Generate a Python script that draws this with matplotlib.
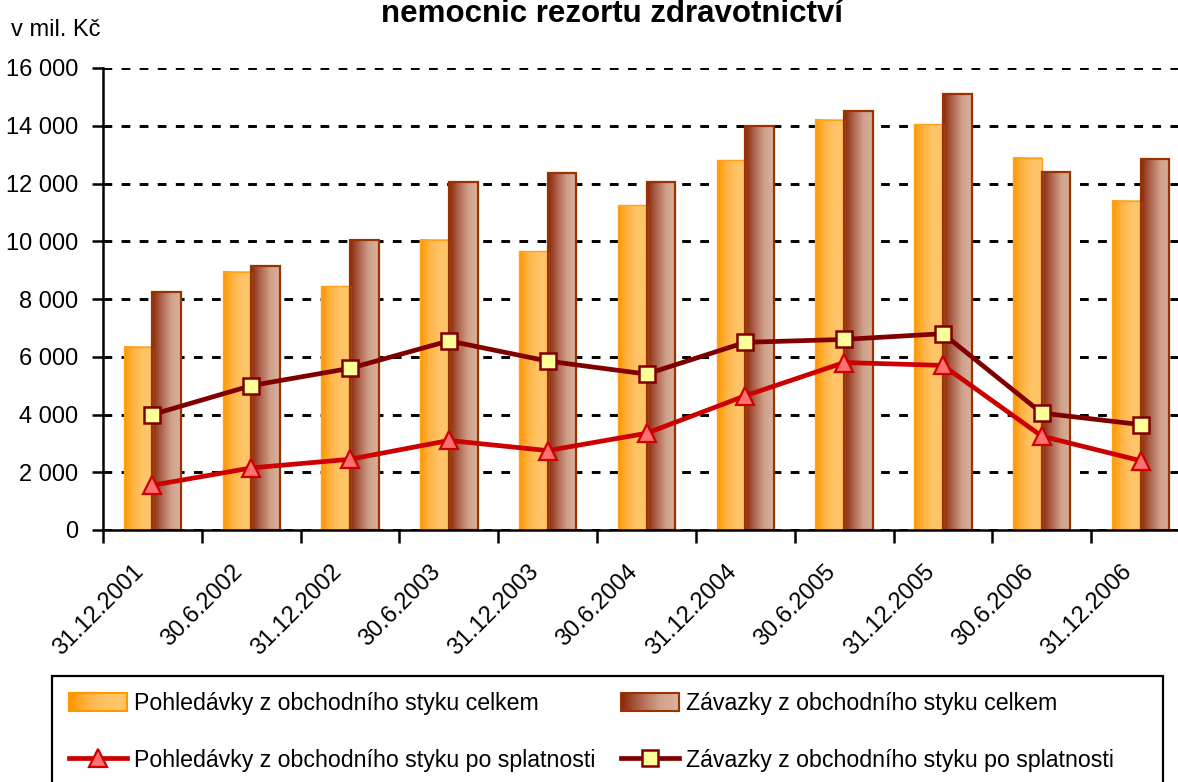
import numpy as np
import matplotlib
matplotlib.use("Agg")
import matplotlib.pyplot as plt
from matplotlib.colors import LinearSegmentedColormap
from matplotlib.patches import Rectangle, Patch
from matplotlib.lines import Line2D
from matplotlib.legend_handler import HandlerBase
from matplotlib.ticker import FuncFormatter

plt.rcParams['font.family'] = ['Liberation Sans', 'DejaVu Sans']

# data (v mil. Kč)
dates = ["31.12.2001", "30.6.2002", "31.12.2002", "30.6.2003", "31.12.2003",
         "30.6.2004", "31.12.2004", "30.6.2005", "31.12.2005", "30.6.2006",
         "31.12.2006"]
pohledavky_celkem = [6350, 8950, 8450, 10050, 9650, 11250, 12800, 14200, 14050, 12900, 11400]
zavazky_celkem = [8250, 9150, 10050, 12050, 12350, 12050, 14000, 14500, 15100, 12400, 12850]
pohledavky_po_spl = [1550, 2150, 2450, 3100, 2750, 3350, 4650, 5800, 5700, 3250, 2400]
zavazky_po_spl = [4000, 5000, 5600, 6550, 5850, 5400, 6500, 6600, 6800, 4050, 3650]

labels = ["Pohledávky z obchodního styku celkem",
          "Závazky z obchodního styku celkem",
          "Pohledávky z obchodního styku po splatnosti",
          "Závazky z obchodního styku po splatnosti"]

orange_cmap = LinearSegmentedColormap.from_list("og", ["#FF9600", "#FFB446", "#FFC468", "#FFC468"])
brown_cmap = LinearSegmentedColormap.from_list("br", ["#8A2808", "#B06650", "#CFA08A", "#D9B29E"])

W, H = 1178, 782
fig = plt.figure(figsize=(W / 100, H / 100), dpi=100)
ax = fig.add_axes([103 / W, 1 - 530 / H, 1087 / W, 462 / H])

x = np.arange(len(dates))
bw = 0.29
grad = np.linspace(0, 1, 64).reshape(1, -1)

def gradient_bars(xs, vals, cmap, edge, lw):
    bars = ax.bar(xs, vals, bw, facecolor="none", edgecolor=edge, linewidth=lw, zorder=2.5)
    for b in bars:
        bx, by = b.get_xy()
        ax.imshow(grad, extent=(bx, bx + b.get_width(), by, by + b.get_height()),
                  aspect="auto", cmap=cmap, zorder=2, interpolation="bilinear")
    return bars

gradient_bars(x - bw / 2, pohledavky_celkem, orange_cmap, "#FFA31A", 1.0)
gradient_bars(x + bw / 2, zavazky_celkem, brown_cmap, "#993300", 1.6)

ax.plot(x, pohledavky_po_spl, color="#CC0000", lw=3.4, marker="^", ms=13,
        mfc="#FF7070", mec="#CC0000", mew=1.6, zorder=3)
ax.plot(x, zavazky_po_spl, color="#800000", lw=3.4, marker="s", ms=12,
        mfc="#FFFF99", mec="#800000", mew=1.8, zorder=3.1)

ax.set_xlim(-0.5, len(dates) - 0.5)
ax.set_ylim(0, 16000)
ax.set_yticks(np.arange(0, 16001, 2000))
ax.yaxis.set_major_formatter(FuncFormatter(lambda v, p: f"{int(v):,}".replace(",", " ")))
ax.yaxis.grid(True, color="black", linestyle=(0, (3.0, 3.2)), lw=2.1, zorder=0.5)
ax.set_axisbelow(True)

# labels sit a little left of the category centre, as in Excel
ax.set_xticks(x - 0.2)
ax.set_xticklabels(dates, rotation=45, ha="right", va="top", rotation_mode="anchor")
ax.set_xticks(np.arange(-0.5, len(dates)), minor=True)
ax.tick_params(axis="x", which="major", length=0, pad=22, labelsize=17)
ax.tick_params(axis="x", which="minor", length=9, width=1.8, direction="out")
ax.tick_params(axis="y", length=8, width=1.8, direction="out", labelsize=17, pad=10)
for s in ["top", "right"]:
    ax.spines[s].set_visible(False)
for s in ["left", "bottom"]:
    ax.spines[s].set_linewidth(1.8)

fig.text(11 / W, 1 - 30 / H, "v mil. Kč", fontsize=17, va="center", ha="left")
fig.text(612 / W, 1 - 22 / H, "nemocnic rezortu zdravotnictví", fontsize=22.5,
         fontweight="bold", ha="center", va="baseline")


class GradientHandler(HandlerBase):
    def __init__(self, cmap, edge):
        super().__init__()
        self.cmap = cmap
        self.edge = edge

    def create_artists(self, legend, orig_handle, xdescent, ydescent, width, height, fontsize, trans):
        n = 40
        arts = []
        for i in range(n):
            arts.append(Rectangle((-xdescent + width * i / n, -ydescent), width / n * 1.1, height,
                                  facecolor=self.cmap(i / (n - 1)), edgecolor="none", transform=trans))
        arts.append(Rectangle((-xdescent, -ydescent), width, height, facecolor="none",
                              edgecolor=self.edge, lw=1.5, transform=trans))
        return arts


h_orange = Patch(label=labels[0])
h_brown = Patch(label=labels[1])
h_red = Line2D([], [], color="#CC0000", lw=3.4, marker="^", ms=13, mfc="#FF7070", mec="#CC0000", mew=1.6)
h_dark = Line2D([], [], color="#800000", lw=3.4, marker="s", ms=12, mfc="#FFFF99", mec="#800000", mew=1.8)

leg = fig.legend([h_orange, h_red, h_brown, h_dark],
                 [labels[0], labels[2], labels[1], labels[3]], ncol=2, loc="upper left",
                 bbox_to_anchor=(69 / W, 1 - 692 / H), frameon=False, fontsize=16.7,
                 handlelength=2.5, handleheight=0.78, handletextpad=0.3,
                 labelspacing=1.45, columnspacing=1.1, borderpad=0, borderaxespad=0,
                 handler_map={h_orange: GradientHandler(orange_cmap, "#FF9900"),
                              h_brown: GradientHandler(brown_cmap, "#993300")})

fig.add_artist(Rectangle((52 / W, -0.05), (1163 - 52) / W, (782 - 676) / H + 0.05,
                         transform=fig.transFigure, fill=False, edgecolor="black", lw=1.6))

fig.savefig("out.png", dpi=100)
